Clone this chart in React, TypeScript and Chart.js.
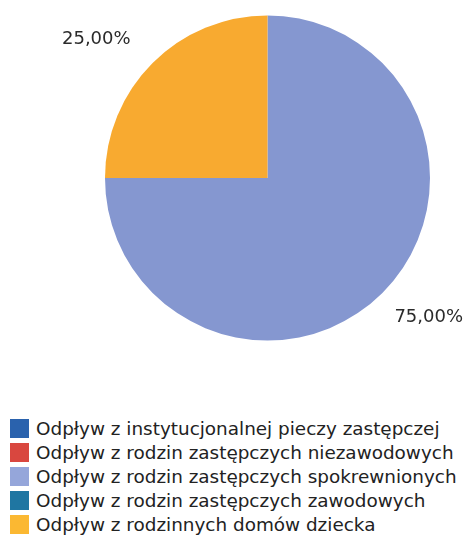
import React, { useEffect, useRef } from "react";
import { Chart, registerables } from "chart.js";

Chart.register(...registerables);

const categories = [
  "Odpływ z instytucjonalnej pieczy zastępczej",
  "Odpływ z rodzin zastępczych niezawodowych",
  "Odpływ z rodzin zastępczych spokrewnionych",
  "Odpływ z rodzin zastępczych zawodowych",
  "Odpływ z rodzinnych domów dziecka",
];
const values = [0, 0, 75, 0, 25];
const pieColors = ["#2a62ad", "#d9473f", "#8597d0", "#1f76a2", "#f8aa30"];
const legendColors = ["#2a62ad", "#d9473f", "#95a6da", "#1f76a2", "#fbb832"];

const labelPlugin = {
  id: "outsideLabels",
  afterDatasetsDraw(chart: any) {
    const ctx = chart.ctx;
    const meta = chart.getDatasetMeta(0);
    const data = chart.data.datasets[0].data as number[];
    const total = data.reduce((a, b) => a + b, 0);
    ctx.save();
    ctx.font = "18px 'DejaVu Sans'";
    ctx.fillStyle = "#2b2b2b";
    meta.data.forEach((arc: any, i: number) => {
      const v = data[i];
      if (!v) return;
      const { x, y, startAngle, endAngle, outerRadius } = arc.getProps(
        ["x", "y", "startAngle", "endAngle", "outerRadius"],
        true
      );
      const mid = (startAngle + endAngle) / 2;
      const d = outerRadius + 24;
      const px = x + Math.cos(mid) * d - 5;
      const py = y + Math.sin(mid) * d;
      const txt = ((v / total) * 100).toFixed(2).replace(".", ",") + "%";
      ctx.textAlign = Math.cos(mid) < 0 ? "right" : "left";
      ctx.textBaseline = Math.sin(mid) < 0 ? "bottom" : "top";
      ctx.fillText(txt, px, Math.sin(mid) < 0 ? py + 2 : py - 2);
    });
    ctx.restore();
  },
};

export default function App() {
  const ref = useRef<HTMLCanvasElement | null>(null);
  useEffect(() => {
    if (!ref.current) return;
    const chart = new Chart(ref.current, {
      type: "pie",
      data: {
        labels: categories,
        datasets: [
          {
            data: values,
            backgroundColor: pieColors,
            borderWidth: 0,
          },
        ],
      },
      options: {
        animation: false,
        responsive: false,
        maintainAspectRatio: false,
        layout: { padding: { left: 105, right: 38, top: 15, bottom: 19 } },
        plugins: {
          legend: { display: false },
          tooltip: { enabled: false },
        },
      },
      plugins: [labelPlugin],
    });
    return () => chart.destroy();
  }, []);

  return (
    <div
      style={{
        position: "absolute",
        left: 0,
        top: 0,
        width: 468,
        height: 536,
        background: "#fff",
        overflow: "hidden",
      }}
    >
      <canvas
        ref={ref}
        width={468}
        height={360}
        style={{ position: "absolute", left: 0, top: 0, width: 468, height: 360 }}
      />
      <div
        style={{
          position: "absolute",
          left: 10,
          top: 416,
          fontFamily: "'DejaVu Sans', sans-serif",
          fontSize: 18.4,
          color: "#222",
        }}
      >
        {categories.map((c, i) => (
          <div
            key={c}
            style={{ display: "flex", alignItems: "center", height: 24, whiteSpace: "nowrap" }}
          >
            <span
              style={{
                display: "inline-block",
                width: 19,
                height: 19,
                background: legendColors[i],
                marginRight: 7,
                flex: "none",
              }}
            />
            <span>{c}</span>
          </div>
        ))}
      </div>
    </div>
  );
}
